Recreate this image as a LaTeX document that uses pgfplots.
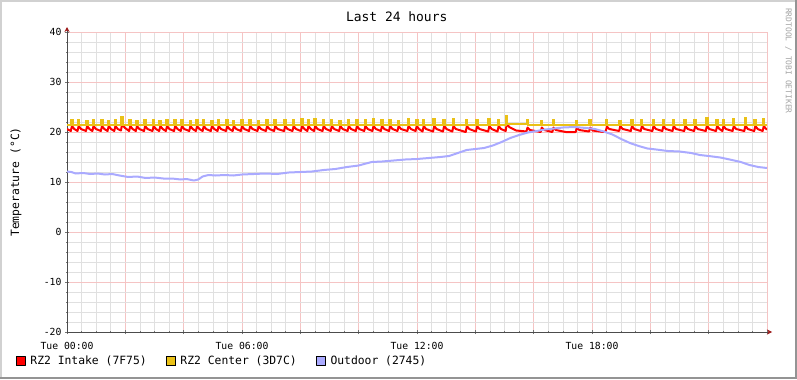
\documentclass[border=0pt]{standalone}
\usepackage{pgfplots}
\pgfplotsset{compat=1.18}
\usepackage{pgfplotstable}
\usetikzlibrary{arrows.meta}
\usepackage{fontspec}
\setmainfont{DejaVu Sans Mono}
\definecolor{rrdred}{HTML}{FF0000}
\definecolor{rrdyel}{HTML}{EAC117}
\definecolor{rrdblue}{HTML}{AAAAFF}
\definecolor{mgridc}{HTML}{F5C4C4}
\definecolor{gridc}{HTML}{E0E0E0}
\definecolor{rrdarrow}{HTML}{9E1B1B}

\pgfplotstableread{
t v
0.00 20.6
0.13 20.2
0.17 21.2
0.25 20.6
0.36 20.2
0.40 21.2
0.48 20.6
0.65 20.2
0.69 21.2
0.77 20.6
0.87 20.2
0.91 21.2
0.99 20.6
1.16 20.2
1.20 21.2
1.28 20.6
1.39 20.2
1.43 21.2
1.51 20.6
1.62 20.2
1.66 21.2
1.74 20.6
1.85 20.3
1.89 21.6
1.97 20.9
2.13 20.2
2.17 21.2
2.25 20.6
2.36 20.2
2.40 21.2
2.48 20.6
2.64 20.2
2.68 21.2
2.76 20.6
2.93 20.2
2.97 21.2
3.05 20.6
3.16 20.2
3.20 21.2
3.28 20.6
3.39 20.2
3.43 21.2
3.51 20.6
3.67 20.2
3.71 21.2
3.79 20.6
3.90 20.2
3.94 21.2
4.02 20.6
4.19 20.2
4.23 21.2
4.31 20.6
4.42 20.2
4.46 21.2
4.54 20.6
4.65 20.2
4.69 21.2
4.77 20.6
4.93 20.2
4.97 21.2
5.05 20.6
5.16 20.2
5.20 21.2
5.28 20.6
5.45 20.2
5.49 21.2
5.57 20.6
5.68 20.2
5.72 21.2
5.80 20.6
5.96 20.2
6.00 21.2
6.08 20.6
6.24 20.2
6.28 21.2
6.36 20.6
6.53 20.2
6.57 21.2
6.65 20.6
6.82 20.2
6.86 21.2
6.94 20.6
7.10 20.2
7.14 21.2
7.22 20.6
7.44 20.2
7.48 21.2
7.56 20.6
7.73 20.2
7.77 21.2
7.85 20.6
8.02 20.2
8.06 21.2
8.14 20.6
8.24 20.2
8.28 21.2
8.36 20.6
8.47 20.2
8.51 21.2
8.59 20.6
8.76 20.2
8.80 21.2
8.88 20.6
9.04 20.2
9.08 21.2
9.16 20.6
9.33 20.2
9.37 21.2
9.45 20.6
9.62 20.2
9.66 21.2
9.74 20.6
9.90 20.2
9.94 21.2
10.02 20.6
10.19 20.2
10.23 21.2
10.31 20.6
10.47 20.2
10.51 21.2
10.59 20.6
10.76 20.2
10.80 21.2
10.88 20.6
11.04 20.2
11.08 21.2
11.16 20.6
11.33 20.2
11.37 21.2
11.45 20.6
11.67 20.2
11.71 21.2
11.79 20.6
11.95 20.2
11.99 21.2
12.07 20.6
12.19 20.1
12.23 21.2
12.31 20.6
12.55 20.1
12.59 21.2
12.67 20.6
12.89 20.1
12.93 21.2
13.01 20.6
13.21 20.1
13.25 21.2
13.33 20.6
13.67 20.0
13.71 21.2
13.79 20.6
14.02 20.1
14.06 21.2
14.14 20.6
14.44 20.1
14.48 21.2
14.56 20.6
14.76 20.1
14.80 21.2
14.88 20.6
15.04 20.2
15.08 21.8
15.16 21.0
15.40 20.3
15.75 20.1
15.79 20.9
15.87 20.4
16.24 20.0
16.28 20.9
16.36 20.4
16.64 20.0
16.68 20.9
16.76 20.4
17.10 20.0
17.44 20.0
17.48 20.9
17.56 20.4
17.90 20.1
17.94 20.9
18.02 20.3
18.40 20.0
18.47 20.1
18.51 21.1
18.59 20.6
18.93 20.2
18.97 21.2
19.05 20.6
19.33 20.2
19.37 21.2
19.45 20.6
19.67 20.2
19.71 21.2
19.79 20.6
20.07 20.2
20.11 21.2
20.19 20.6
20.41 20.2
20.45 21.2
20.53 20.6
20.76 20.2
20.80 21.2
20.88 20.6
21.16 20.2
21.20 21.2
21.28 20.6
21.50 20.2
21.54 21.2
21.62 20.6
21.90 20.2
21.94 21.3
22.02 20.6
22.25 20.2
22.29 21.2
22.37 20.6
22.47 20.2
22.51 21.2
22.59 20.6
22.82 20.2
22.86 21.2
22.94 20.6
23.22 20.2
23.26 21.3
23.34 20.6
23.56 20.2
23.60 21.2
23.68 20.6
23.85 20.2
23.89 21.2
23.97 20.6
24.00 20.5
}\intake

\pgfplotstableread{
t v
0.00 21.5
0.14 22.4
0.19 21.5
0.37 22.4
0.42 21.5
0.66 22.3
0.71 21.5
0.88 22.5
0.93 21.5
1.17 22.4
1.22 21.5
1.40 22.3
1.45 21.5
1.63 22.4
1.68 21.5
1.86 23.0
1.91 21.5
2.14 22.4
2.19 21.5
2.37 22.3
2.42 21.5
2.65 22.4
2.70 21.5
2.94 22.5
2.99 21.5
3.17 22.3
3.22 21.5
3.40 22.4
3.45 21.5
3.68 22.4
3.73 21.5
3.91 22.5
3.96 21.5
4.20 22.3
4.25 21.5
4.43 22.4
4.48 21.5
4.66 22.4
4.71 21.5
4.94 22.3
4.99 21.5
5.17 22.4
5.22 21.5
5.46 22.5
5.51 21.5
5.69 22.3
5.74 21.5
5.97 22.4
6.02 21.5
6.25 22.5
6.30 21.5
6.54 22.3
6.59 21.5
6.83 22.4
6.88 21.5
7.11 22.5
7.16 21.5
7.45 22.4
7.50 21.5
7.74 22.5
7.79 21.5
8.03 22.6
8.08 21.5
8.25 22.4
8.30 21.5
8.48 22.6
8.53 21.5
8.77 22.4
8.82 21.5
9.05 22.5
9.10 21.5
9.34 22.3
9.39 21.5
9.63 22.5
9.68 21.5
9.91 22.4
9.96 21.5
10.20 22.4
10.25 21.5
10.48 22.6
10.53 21.5
10.77 22.4
10.82 21.5
11.05 22.5
11.10 21.5
11.34 22.3
11.39 21.5
11.68 22.6
11.73 21.5
11.97 22.4
12.02 21.5
12.20 22.5
12.25 21.5
12.56 22.6
12.61 21.5
12.90 22.5
12.95 21.5
13.22 22.6
13.27 21.5
13.68 22.5
13.73 21.5
14.03 22.4
14.08 21.5
14.45 22.6
14.50 21.5
14.77 22.5
14.82 21.5
15.05 23.2
15.10 21.6
15.76 22.4
15.81 21.5
16.25 22.3
16.30 21.5
16.65 22.4
16.70 21.5
17.45 22.2
17.50 21.5
17.91 22.4
17.96 21.5
18.48 22.4
18.53 21.5
18.94 22.3
18.99 21.5
19.34 22.5
19.39 21.5
19.68 22.4
19.73 21.5
20.08 22.5
20.13 21.5
20.42 22.4
20.47 21.5
20.77 22.5
20.82 21.5
21.17 22.4
21.22 21.5
21.51 22.5
21.56 21.5
21.91 22.8
21.96 21.5
22.26 22.5
22.31 21.5
22.48 22.4
22.53 21.5
22.83 22.6
22.88 21.5
23.23 22.8
23.28 21.5
23.57 22.5
23.62 21.5
23.86 22.7
23.91 21.5
24.00 21.5
}\center

\pgfplotstableread{
t v
0.00 12.1
0.15 12.0
0.30 11.7
0.55 11.8
0.80 11.6
1.05 11.7
1.30 11.5
1.55 11.6
1.80 11.3
2.10 11.0
2.40 11.1
2.70 10.8
3.00 10.9
3.30 10.7
3.60 10.7
3.90 10.5
4.10 10.6
4.35 10.3
4.50 10.5
4.65 11.1
4.85 11.4
5.10 11.3
5.40 11.4
5.70 11.3
6.00 11.5
6.40 11.6
6.80 11.7
7.20 11.6
7.60 11.9
8.00 12.0
8.40 12.1
8.80 12.4
9.20 12.6
9.60 13.0
10.00 13.3
10.25 13.7
10.45 14.0
10.80 14.1
11.20 14.3
11.60 14.5
12.00 14.6
12.40 14.8
12.80 15.0
13.10 15.2
13.40 15.8
13.70 16.4
14.00 16.6
14.30 16.8
14.60 17.3
14.90 18.0
15.20 18.8
15.50 19.4
15.80 19.9
16.10 20.2
16.40 20.5
16.70 20.7
17.00 20.9
17.40 21.0
17.80 20.8
18.10 20.6
18.40 20.1
18.70 19.5
19.00 18.6
19.30 17.8
19.60 17.2
19.90 16.7
20.20 16.5
20.60 16.2
21.00 16.1
21.40 15.8
21.70 15.4
22.00 15.2
22.40 14.9
22.80 14.4
23.10 14.0
23.40 13.4
23.70 13.0
24.00 12.8
}\outdoor

\begin{document}
\begin{tikzpicture}[x=1bp,y=1bp]
\path[use as bounding box] (0,0) rectangle (797,379);
\fill[white] (0,0) rectangle (797,379);
\draw[line width=2bp, color=black!18] (1,0) -- (1,378) -- (797,378);
\draw[line width=2bp, color=black!42] (0,1) -- (796,1) -- (796,379);
\node[rotate=-90, anchor=south west, font=\fontsize{8}{9}\selectfont, text=black!35, inner sep=0pt] at (785,371) {RRDTOOL / TOBI OETIKER};
\begin{axis}[
  at={(67bp,47bp)}, anchor=south west,
  scale only axis, width=700bp, height=300bp,
  xmin=0, xmax=24, ymin=-20, ymax=40,
  axis lines=left,
  axis line style={color=black!70, line width=0.8bp},
  x axis line style={-{Stealth[length=5bp,width=5bp,color=rrdarrow]}, shorten >=-5bp},
  y axis line style={-{Stealth[length=5bp,width=5bp,color=rrdarrow]}, shorten >=-5bp},
  xtick={0,2,...,24},
  xticklabels={Tue 00:00,,,Tue 06:00,,,Tue 12:00,,,Tue 18:00,,,},
  minor x tick num=3,
  ytick={-20,-10,...,40},
  minor y tick num=4,
  grid=both,
  major grid style={color=mgridc, line width=0.6bp},
  minor grid style={color=gridc, line width=0.6bp},
  tick style={color=black!55, line width=0.6bp},
  major tick length=4bp, minor tick length=2bp, tick align=center,
  /pgf/number format/assume math mode=true,
  ticklabel style={font=\fontsize{9.8}{11}\selectfont},
  xticklabel style={yshift=-5bp},
  title={Last 24 hours},
  title style={at={(axis description cs:0.471,1.03)}, anchor=center, font=\fontsize{13}{15}\selectfont},
  ylabel={Temperature (°C)},
  ylabel style={at={(axis description cs:-0.073,0.5)}, anchor=center, font=\fontsize{11.4}{13}\selectfont},
  legend style={at={(axis description cs:-0.0729,-0.0967)}, anchor=west, draw=none, fill=none,
    legend columns=3, font=\fontsize{11.4}{13}\selectfont, inner sep=0pt,
    /tikz/every even column/.append style={column sep=17.5bp}},
  legend cell align=left,
]
\addplot[color=rrdred, line width=2bp, line join=round,
  legend image code/.code={\draw[fill=rrdred,draw=black,line width=0.6bp] (0bp,-4.5bp) rectangle (9bp,4.5bp); \path (11bp,0bp);}]
  table[x=t,y=v] {\intake};
\addlegendentry{RZ2 Intake (7F75)}
\addplot[color=rrdyel, line width=2bp, const plot,
  legend image code/.code={\draw[fill=rrdyel,draw=black,line width=0.6bp] (0bp,-4.5bp) rectangle (9bp,4.5bp); \path (11bp,0bp);}]
  table[x=t,y=v] {\center};
\addlegendentry{RZ2 Center (3D7C)}
\addplot[color=rrdblue, line width=2bp, line join=round,
  legend image code/.code={\draw[fill=rrdblue,draw=black,line width=0.6bp] (0bp,-4.5bp) rectangle (9bp,4.5bp); \path (11bp,0bp);}]
  table[x=t,y=v] {\outdoor};
\addlegendentry{Outdoor (2745)}
\end{axis}
\end{tikzpicture}
\end{document}
